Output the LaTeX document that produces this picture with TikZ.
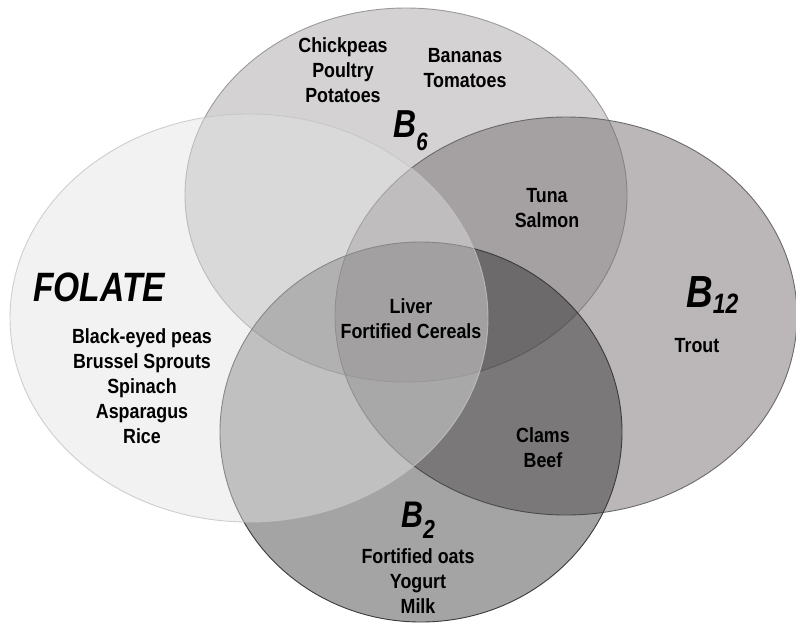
\documentclass[tikz,border=0pt]{standalone}
\usepackage{fontspec}
\setmainfont{Liberation Sans}[FakeStretch=0.87]
\newfontfamily\vitfont{Liberation Sans}[FakeStretch=0.82]

\definecolor{bsixfill}{HTML}{A9A5A7}
\definecolor{bsixline}{HTML}{9A9A9A}
\definecolor{btwelvefill}{HTML}{746C6E}
\definecolor{btwelveline}{HTML}{6A6A6A}
\definecolor{btwofill}{HTML}{1B1B1B}
\definecolor{btwoline}{HTML}{3A3A3A}
\definecolor{folatefill}{HTML}{E2E2E2}
\definecolor{folateline}{HTML}{C4C4C4}

\begin{document}
\begin{tikzpicture}[x=1pt,y=-1pt,
  setshape/.style={line width=0.9pt},
  food/.style={font=\fontsize{20.5}{25}\selectfont\bfseries, align=center,
               anchor=north, inner sep=0pt, text=black},
  vit/.style={font=\vitfont\bfseries\itshape, anchor=base west,
              inner sep=0pt, text=black}]
\useasboundingbox (0,0) rectangle (796,622);

% the four vitamin sets, drawn as translucent ellipses
\path[setshape, fill=bsixfill, fill opacity=0.5, draw=bsixline]
  (406,195) ellipse [x radius=221pt, y radius=187pt];
\path[setshape, fill=btwelvefill, fill opacity=0.49, draw=btwelveline]
  (566,316) ellipse [x radius=231pt, y radius=199pt];
\path[setshape, fill=btwofill, fill opacity=0.4, draw=btwoline]
  (421,432) ellipse [x radius=201pt, y radius=190pt];
\path[setshape, fill=folatefill, fill opacity=0.46, draw=folateline, draw opacity=0.8]
  (249,318) ellipse [x radius=239pt, y radius=204pt];

% set names
\node[vit] (lfolate) at (33,301) {\fontsize{41}{41}\selectfont FOLATE};
\node[vit] (lbsix) at (393,137)
  {\fontsize{39}{39}\selectfont B\raisebox{-13pt}{\fontsize{25}{25}\selectfont 6}};
\node[vit] (lbtwelve) at (686,307)
  {\fontsize{45}{45}\selectfont B\raisebox{-6.5pt}{\fontsize{28}{28}\selectfont 12}};
\node[vit] (lbtwo) at (401,527)
  {\fontsize{37}{37}\selectfont B\raisebox{-11pt}{\fontsize{26}{26}\selectfont 2}};

% foods in each region
\node[food] (fsix) at (343,37.5) {Chickpeas\\Poultry\\Potatoes};
\node[food] (fsixb) at (465,48.5) {Bananas\\Tomatoes};
\node[food] (fsixtwelve) at (547,188.5) {Tuna\\Salmon};
\node[food] (ftwelve) at (697,338.5) {Trout};
\node[food] (ffolate) at (142,328.5)
  {Black-eyed peas\\Brussel Sprouts\\Spinach\\Asparagus\\Rice};
\node[food] (fall) at (411,298.5) {Liver\\Fortified Cereals};
\node[food] (ftwotwelve) at (543,427.5) {Clams\\Beef};
\node[food] (ftwo) at (418,548.5) {Fortified oats\\Yogurt\\Milk};
\end{tikzpicture}
\end{document}
